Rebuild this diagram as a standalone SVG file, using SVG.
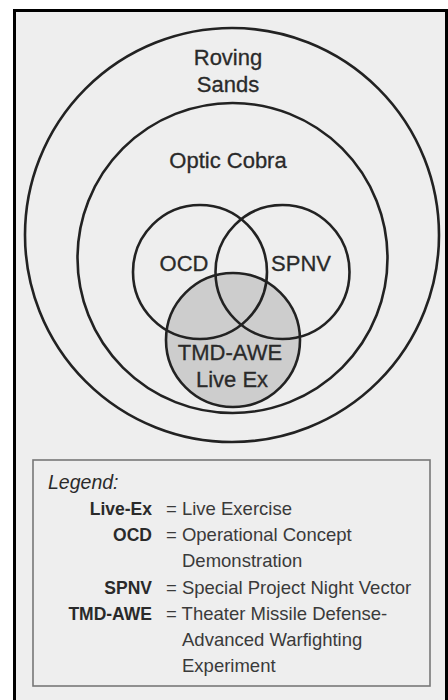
<svg xmlns="http://www.w3.org/2000/svg" width="448" height="700" viewBox="0 0 448 700">
  <style>
    .ring { fill: none; stroke: #222; stroke-width: 2.6; }
    .lbl { font-family: "Liberation Sans", Arial, sans-serif; font-size: 22px; fill: #2a2a2a; stroke: #2a2a2a; stroke-width: 0.3; text-anchor: middle; }
    .key { font-family: "Liberation Sans", Arial, sans-serif; font-size: 17.5px; font-weight: bold; fill: #2a2a2a; text-anchor: end; }
    .def { font-family: "Liberation Sans", Arial, sans-serif; font-size: 18.5px; fill: #3a3a3a; }
  </style>
  <rect x="0" y="0" width="448" height="700" fill="#ffffff"/>
  <!-- page frame, open at the bottom -->
  <rect id="frame" x="14.5" y="10.5" width="432" height="700" fill="#eeeeee" stroke="#000" stroke-width="3"/>

  <g id="venn">
    <circle id="tmd-fill" cx="233" cy="340" r="67" fill="#cdcdcd"/>
    <g id="roving-sands">
      <circle class="ring" cx="232" cy="235" r="207"/>
      <text class="lbl" x="228" y="65">Roving</text>
      <text class="lbl" x="228" y="92">Sands</text>
    </g>
    <g id="optic-cobra">
      <circle class="ring" cx="232.5" cy="258" r="155"/>
      <text class="lbl" x="228" y="168">Optic Cobra</text>
    </g>
    <g id="ocd">
      <circle class="ring" cx="200" cy="272" r="67"/>
      <text class="lbl" x="184" y="271">OCD</text>
    </g>
    <g id="spnv">
      <circle class="ring" cx="282.5" cy="272" r="67"/>
      <text class="lbl" x="301" y="271">SPNV</text>
    </g>
    <g id="tmd-awe">
      <circle class="ring" cx="233" cy="340" r="67"/>
      <text class="lbl" x="230" y="360">TMD-AWE</text>
      <text class="lbl" x="232" y="387">Live Ex</text>
    </g>
  </g>

  <g id="legend">
    <rect x="33" y="460" width="397" height="226" fill="#eeeeee" stroke="#777" stroke-width="1.6"/>
    <text x="48" y="489" font-family="'Liberation Sans', Arial, sans-serif" font-size="19.5" font-style="italic" fill="#2a2a2a">Legend:</text>
    <text class="key" x="152" y="515">Live-Ex</text>
    <text class="def" x="166" y="515">= Live Exercise</text>
    <text class="key" x="152" y="541">OCD</text>
    <text class="def" x="166" y="541">= Operational Concept</text>
    <text class="def" x="182" y="567">Demonstration</text>
    <text class="key" x="152" y="594">SPNV</text>
    <text class="def" x="166" y="594">= Special Project Night Vector</text>
    <text class="key" x="152" y="620">TMD-AWE</text>
    <text class="def" x="166" y="620">= Theater Missile Defense-</text>
    <text class="def" x="182" y="646">Advanced Warfighting</text>
    <text class="def" x="182" y="672">Experiment</text>
  </g>
</svg>
